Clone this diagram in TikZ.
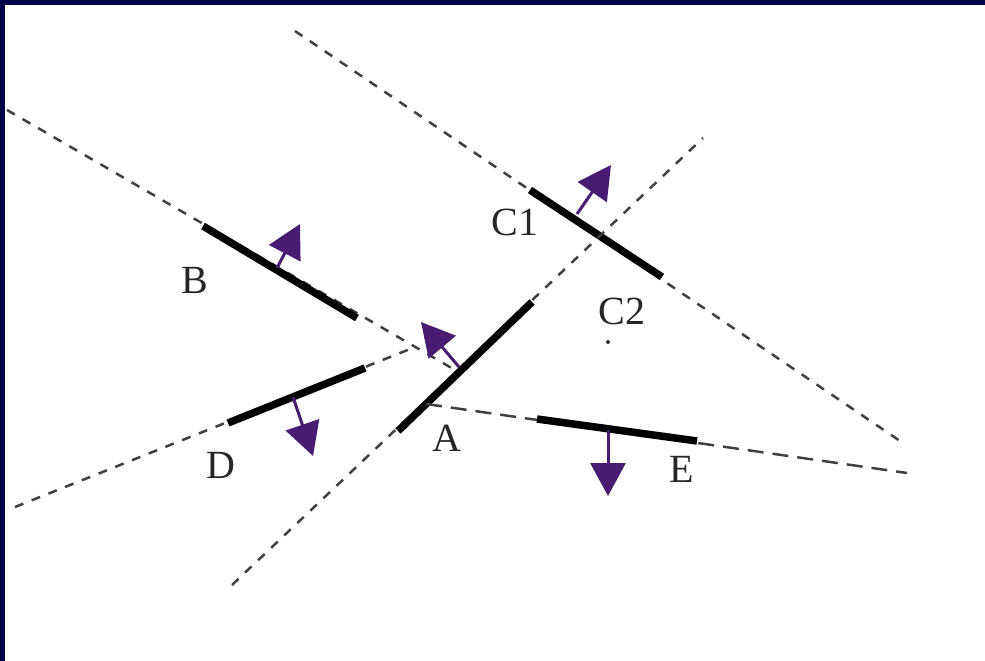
\documentclass[tikz,border=0pt]{standalone}
\usepackage{fontspec}
\setmainfont{Liberation Serif}
\usetikzlibrary{arrows.meta}
\definecolor{framenavy}{RGB}{0,0,72}
\definecolor{normalpurple}{RGB}{72,28,112}

\begin{document}
\begin{tikzpicture}[x=1pt, y=-1pt,
    guide/.style={line width=2.5pt, black!75, dash pattern=on 9pt off 9pt},
    wall/.style={line width=7.5pt, black},
    normalvec/.style={line width=3pt, normalpurple, -{Triangle[width=35pt,length=33pt]}},
    lbl/.style={font=\fontsize{40}{48}\selectfont, text=black!85}]
    \useasboundingbox (0,0) rectangle (985,661);
    \fill[framenavy] (0,0) rectangle (985,5);
    \fill[framenavy] (0,0) rectangle (5,661);

    % line through C1 and C2
    \coordinate (c0) at (295,31);
    \coordinate (c3) at (903,443);
    \coordinate (c1) at (530,190);
    \coordinate (c2) at (662,277);
    \draw[guide] (c0) -- (c3);
    \draw[wall] (c1) -- (c2);

    % line through B
    \coordinate (b0) at (7,110);
    \coordinate (b3) at (455,370);
    \coordinate (b1) at (203,226);
    \coordinate (b2) at (357,318);
    \draw[guide] (b0) -- (b3);
    \draw[wall] (b1) -- (b2);

    % line through D
    \coordinate (d0) at (15,507);
    \coordinate (d3) at (415,347);
    \coordinate (d1) at (228,423);
    \coordinate (d2) at (365,368);
    \draw[guide] (d0) -- (d3);
    \draw[wall] (d1) -- (d2);

    % line through A
    \coordinate (a0) at (232,585);
    \coordinate (a3) at (703,138);
    \coordinate (a1) at (398,431);
    \coordinate (a2) at (532,302);
    \draw[guide] (a0) -- (a3);
    \draw[wall] (a1) -- (a2);

    % line through E
    \coordinate (e0) at (426,404);
    \coordinate (e3) at (907,473);
    \coordinate (e1) at (537,419);
    \coordinate (e2) at (697,441);
    \draw[guide, dash pattern=on 16pt off 9pt] (e0) -- (e3);
    \draw[wall] (e1) -- (e2);

    % normals
    \coordinate (nb0) at (277,268);
    \coordinate (nb1) at (300,224);
    \coordinate (nc0) at (577,214);
    \coordinate (nc1) at (611,165);
    \coordinate (na0) at (459,367);
    \coordinate (na1) at (421,322);
    \coordinate (nd0) at (293,397);
    \coordinate (nd1) at (313,456);
    \coordinate (ne0) at (608,430);
    \coordinate (ne1) at (608,496);
    \draw[normalvec] (nb0) -- (nb1);
    \draw[normalvec] (nc0) -- (nc1);
    \draw[normalvec] (na0) -- (na1);
    \draw[normalvec] (nd0) -- (nd1);
    \draw[normalvec] (ne0) -- (ne1);

    % labels
    \node[lbl] (lblB) at (195,280) {B};
    \node[lbl] (lblCa) at (515,222) {C1};
    \node[lbl] (lblCb) at (622,311) {C2};
    \node[lbl] (lblA) at (447,438) {A};
    \node[lbl] (lblD) at (221,465) {D};
    \node[lbl] (lblE) at (682,469) {E};
    \fill[black!80] (608,342) circle (2);
\end{tikzpicture}
\end{document}
